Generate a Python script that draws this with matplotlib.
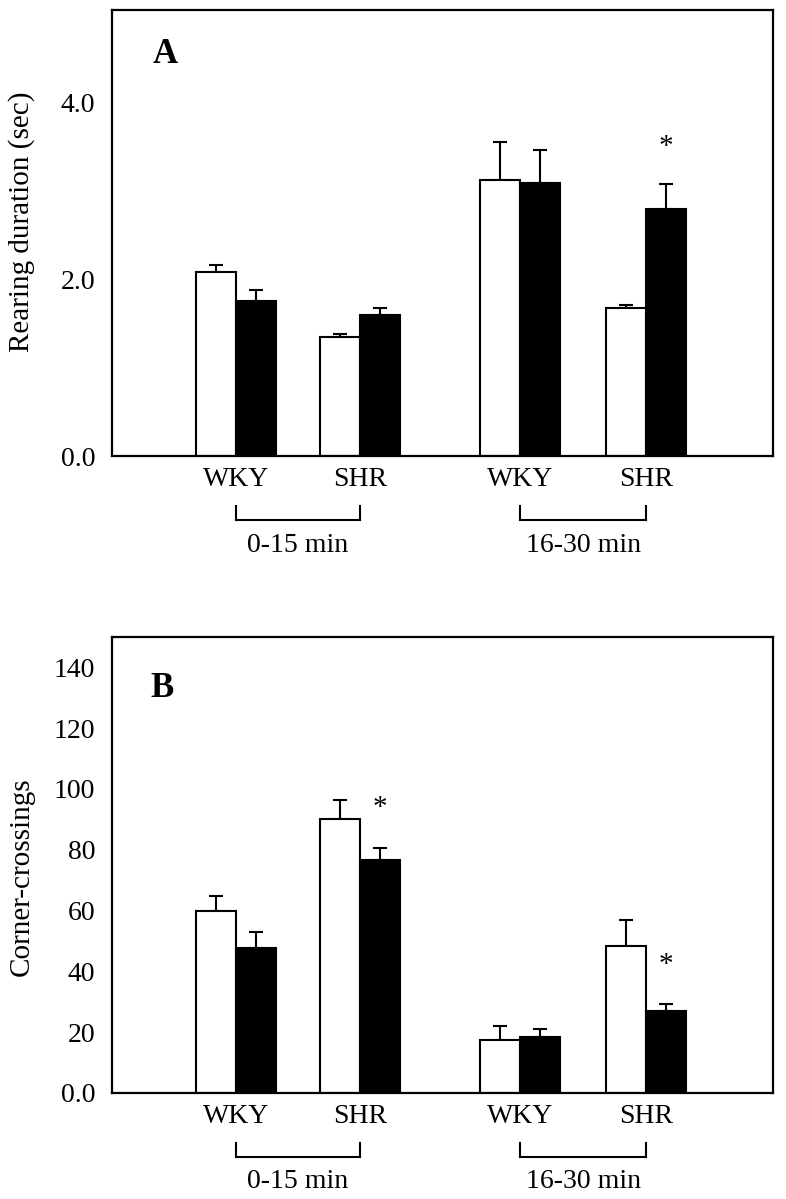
import numpy as np
import matplotlib.pyplot as plt
import matplotlib.transforms as mtransforms

plt.rcParams['font.family'] = ['Liberation Serif', 'DejaVu Serif']

# group positions (x) and labels
groups = ['WKY', 'SHR', 'WKY', 'SHR']
periods = ['0-15 min', '16-30 min']
xpos = np.array([3.1, 6.2, 10.2, 13.35])

# Panel A - rearing duration (sec)
rear_white = [2.08, 1.35, 3.12, 1.68]
rear_white_err = [0.08, 0.035, 0.44, 0.035]
rear_black = [1.76, 1.595, 3.09, 2.80]
rear_black_err = [0.12, 0.08, 0.37, 0.28]
rear_stars = [3]          # index of groups with * over black bar
rear_star_y = [3.5]

# Panel B - corner-crossings
cross_white = [59.8, 90.2, 17.5, 48.2]
cross_white_err = [5.1, 6.3, 4.6, 8.6]
cross_black = [47.6, 76.5, 18.5, 27.0]
cross_black_err = [5.4, 4.0, 2.4, 2.3]
cross_stars = [1, 3]
cross_star_y = [93.6, 42.2]

fig = plt.figure(figsize=(7.86, 11.99), dpi=100)
W, H = 786, 1199


def px_axes(left, top, right, bottom):
    return fig.add_axes([left / W, 1 - bottom / H, (right - left) / W, (bottom - top) / H])


def draw_panel(ax, white, werr, black, berr, stars, star_y, ylim, yticks, yticklabels, letter, letter_xy):
    bw = 1.0
    ax.bar(xpos - bw / 2, white, bw, color='white', edgecolor='black', linewidth=1.5, zorder=2)
    ax.bar(xpos + bw / 2, black, bw, color='black', edgecolor='black', linewidth=1.5, zorder=2)
    ax.errorbar(xpos - bw / 2, white, yerr=[np.zeros(4), werr], fmt='none', ecolor='black',
                elinewidth=1.5, capsize=5, capthick=1.5, zorder=1)
    ax.errorbar(xpos + bw / 2, black, yerr=[np.zeros(4), berr], fmt='none', ecolor='black',
                elinewidth=1.5, capsize=5, capthick=1.5, zorder=1)
    for i, sy in zip(stars, star_y):
        ax.text(xpos[i] + bw / 2, sy, '*', ha='center', va='center', fontsize=21)

    ax.set_xlim(0, 16.52)
    ax.set_ylim(*ylim)
    ax.set_yticks(yticks)
    ax.set_yticklabels(yticklabels, fontsize=20)
    ax.set_xticks(xpos)
    ax.set_xticklabels(groups, fontsize=20)
    ax.tick_params(length=0, pad=12)
    ax.tick_params(axis='x', pad=8)
    for s in ax.spines.values():
        s.set_linewidth(1.6)

    ax.text(letter_xy[0], letter_xy[1], letter, transform=ax.transAxes, ha='center', va='center',
            fontsize=25, fontweight='bold')

    # brackets under each time period (offsets in pixels below the x axis)
    base = ax.get_xaxis_transform()
    tr_top = mtransforms.offset_copy(base, fig=fig, y=-50 * 0.72, units='points')
    tr_bot = mtransforms.offset_copy(base, fig=fig, y=-64 * 0.72, units='points')
    tr_txt = mtransforms.offset_copy(base, fig=fig, y=-89 * 0.72, units='points')
    for k, label in enumerate(periods):
        x0, x1 = xpos[2 * k], xpos[2 * k + 1]
        ax.plot([x0, x1], [0, 0], color='black', linewidth=1.5, transform=tr_bot, clip_on=False)
        for x in (x0, x1):
            ax.plot([x, x], [0, 0], color='black', linewidth=1.5, transform=tr_bot, clip_on=False)
        ax.text((x0 + x1) / 2, 0, label, transform=tr_txt, ha='center', va='center', fontsize=20)


axA = px_axes(112, 10, 773, 456)
draw_panel(axA, rear_white, rear_white_err, rear_black, rear_black_err, rear_stars, rear_star_y,
           (0, 5.05), [0, 2, 4], ['0.0', '2.0', '4.0'], 'A', (0.08, 0.90))

axB = px_axes(112, 637, 773, 1093)
draw_panel(axB, cross_white, cross_white_err, cross_black, cross_black_err, cross_stars, cross_star_y,
           (0, 150), [0, 20, 40, 60, 80, 100, 120, 140],
           ['0.0', '20', '40', '60', '80', '100', '120', '140'], 'B', (0.076, 0.888))

# vertical bracket ends, drawn in figure pixel space
for ax in (axA, axB):
    bb = ax.get_window_extent()
    for x in xpos:
        xd = ax.transData.transform((x, 0))[0]
        fig.lines.append(plt.Line2D([xd / W, xd / W], [(bb.y0 - 50) / H, (bb.y0 - 64) / H],
                                    color='black', linewidth=1.5, transform=fig.transFigure))

fig.text(22 / W, 1 - 222 / H, 'Rearing duration (sec)', rotation=90, ha='center', va='center', fontsize=21)
fig.text(22 / W, 1 - 877 / H, 'Corner-crossings', rotation=90, ha='center', va='center', fontsize=21)

fig.savefig('out.png', dpi=100)
